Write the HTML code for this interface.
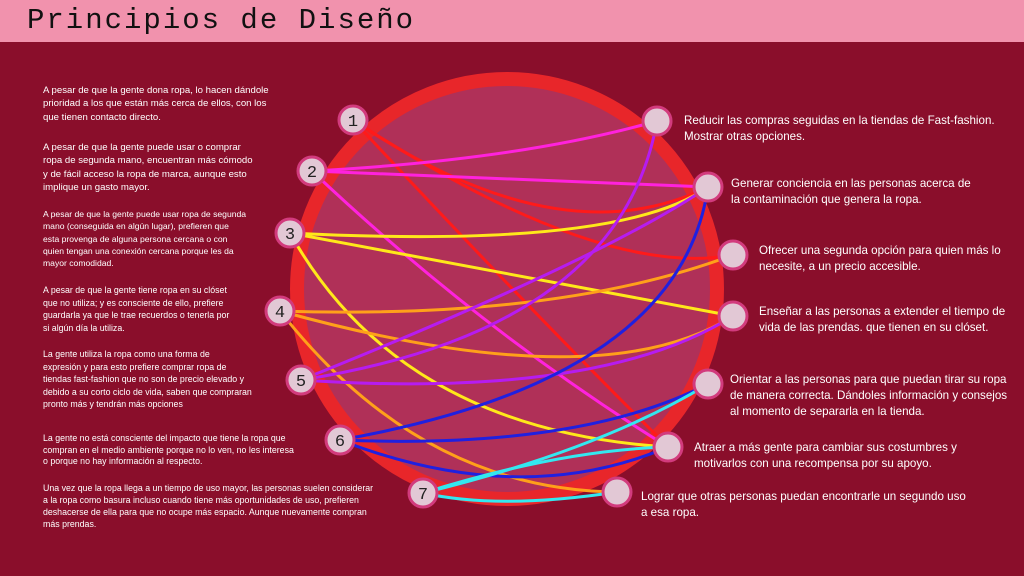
<!DOCTYPE html>
<html><head><meta charset="utf-8"><style>
body{margin:0;width:1024px;height:576px;background:#8a0e2b;position:relative;overflow:hidden;font-family:"Liberation Sans",sans-serif;color:#fff}
.hdr{position:absolute;left:0;top:0;width:1024px;height:42px;background:#f192ad}
.title{position:absolute;left:27px;top:4px;font-family:"Liberation Mono",monospace;font-size:29px;letter-spacing:2px;color:#111}
.l{position:absolute;left:43px;font-size:9.6px;line-height:13.3px}
.r{position:absolute;font-size:11.6px;line-height:16px}
</style></head><body>
<div class="hdr"></div><div class="title">Principios de Diseño</div>
<svg width="1024" height="576" style="position:absolute;left:0;top:0">
<circle cx="507" cy="289" r="210" fill="#b03058" stroke="#e8262a" stroke-width="14"/>
<g fill="none" stroke-width="3">
<path d="M353 120 Q560 260 708 187" stroke="#ff1a1a"/>
<path d="M353 120 Q600 280 733 255" stroke="#ff1a1a"/>
<path d="M353 120 Q520 300 668 447" stroke="#ff1a1a"/>
<path d="M312 171 Q520 160 657 121" stroke="#ff22dd"/>
<path d="M312 171 L708 187" stroke="#ff22dd"/>
<path d="M312 171 Q480 330 668 447" stroke="#ff22dd"/>
<path d="M290 233 Q620 250 708 187" stroke="#ffe81a"/>
<path d="M290 233 L733 316" stroke="#ffe81a"/>
<path d="M290 233 Q400 430 668 447" stroke="#ffe81a"/>
<path d="M280 311 Q560 320 733 255" stroke="#ffa01a"/>
<path d="M280 311 Q600 400 733 316" stroke="#ffa01a"/>
<path d="M280 311 Q420 490 617 492" stroke="#ffa01a"/>
<path d="M301 380 Q620 330 657 121" stroke="#b61cf0"/>
<path d="M301 380 Q600 260 708 187" stroke="#b61cf0"/>
<path d="M301 380 Q600 400 733 316" stroke="#b61cf0"/>
<path d="M340 440 Q680 380 708 187" stroke="#2020e0"/>
<path d="M340 440 Q580 450 708 384" stroke="#2020e0"/>
<path d="M340 440 Q520 510 668 447" stroke="#2020e0"/>
<path d="M423 493 Q600 450 708 384" stroke="#33e8f0"/>
<path d="M423 493 Q560 450 668 447" stroke="#33e8f0"/>
<path d="M423 493 Q500 510 617 492" stroke="#33e8f0"/>
</g>
<g fill="#e2c8d5" stroke="#d23b7d" stroke-width="3">
<circle cx="353" cy="120" r="14"/><circle cx="312" cy="171" r="14"/><circle cx="290" cy="233" r="14"/><circle cx="280" cy="311" r="14"/><circle cx="301" cy="380" r="14"/><circle cx="340" cy="440" r="14"/><circle cx="423" cy="493" r="14"/>
<circle cx="657" cy="121" r="14"/><circle cx="708" cy="187" r="14"/><circle cx="733" cy="255" r="14"/><circle cx="733" cy="316" r="14"/><circle cx="708" cy="384" r="14"/><circle cx="668" cy="447" r="14"/><circle cx="617" cy="492" r="14"/>
</g>
<g font-family="Liberation Mono,monospace" font-size="17" fill="#222" text-anchor="middle">
<text x="353" y="126">1</text><text x="312" y="177">2</text><text x="290" y="239">3</text><text x="280" y="317">4</text><text x="301" y="386">5</text><text x="340" y="446">6</text><text x="423" y="499">7</text>
</g>
</svg>
<div class="l" style="top:84px">A pesar de que la gente dona ropa, lo hacen dándole<br>prioridad a los que están más cerca de ellos, con los<br>que tienen contacto directo.</div>
<div class="l" style="top:141px">A pesar de que la gente puede usar o comprar<br>ropa de segunda mano, encuentran más cómodo<br>y de fácil acceso la ropa de marca, aunque esto<br>implique un gasto mayor.</div>
<div class="l" style="top:208px;font-size:8.6px;line-height:12.3px">A pesar de que la gente puede usar ropa de segunda<br>mano (conseguida en algún lugar), prefieren que<br>esta provenga de alguna persona cercana o con<br>quien tengan una conexión cercana porque les da<br>mayor comodidad.</div>
<div class="l" style="top:284px;font-size:8.8px;line-height:12.6px">A pesar de que la gente tiene ropa en su clóset<br>que no utiliza; y es consciente de ello, prefiere<br>guardarla ya que le trae recuerdos o tenerla por<br>si algún día la utiliza.</div>
<div class="l" style="top:348px;font-size:8.8px;line-height:12.6px">La gente utiliza la ropa como una forma de<br>expresión y para esto prefiere comprar ropa de<br>tiendas fast-fashion que no son de precio elevado y<br>debido a su corto ciclo de vida, saben que compraran<br>pronto más y tendrán más opciones</div>
<div class="l" style="top:433px;font-size:8.8px;line-height:11.5px">La gente no está consciente del impacto que tiene la ropa que<br>compran en el medio ambiente porque no lo ven, no les interesa<br>o porque no hay información al respecto.</div>
<div class="l" style="top:482px;font-size:8.8px;line-height:12px">Una vez que la ropa llega a un tiempo de uso mayor, las personas suelen considerar<br>a la ropa como basura incluso cuando tiene más oportunidades de uso, prefieren<br>deshacerse de ella para que no ocupe más espacio. Aunque nuevamente compran<br>más prendas.</div>
<div class="r" style="left:684px;top:113px">Reducir las compras seguidas en la tiendas de Fast-fashion.<br>Mostrar otras opciones.</div>
<div class="r" style="left:731px;top:176px">Generar conciencia en las personas acerca de<br>la contaminación que genera la ropa.</div>
<div class="r" style="left:759px;top:243px">Ofrecer una segunda opción para quien más lo<br>necesite, a un precio accesible.</div>
<div class="r" style="left:759px;top:304px">Enseñar a las personas a extender el tiempo de<br>vida de las prendas. que tienen en su clóset.</div>
<div class="r" style="left:730px;top:372px">Orientar a las personas para que puedan tirar su ropa<br>de manera correcta. Dándoles información y consejos<br>al momento de separarla en la tienda.</div>
<div class="r" style="left:694px;top:440px">Atraer a más gente para cambiar sus costumbres y<br>motivarlos con una recompensa por su apoyo.</div>
<div class="r" style="left:641px;top:489px">Lograr que otras personas puedan encontrarle un segundo uso<br>a esa ropa.</div>
</body></html>
